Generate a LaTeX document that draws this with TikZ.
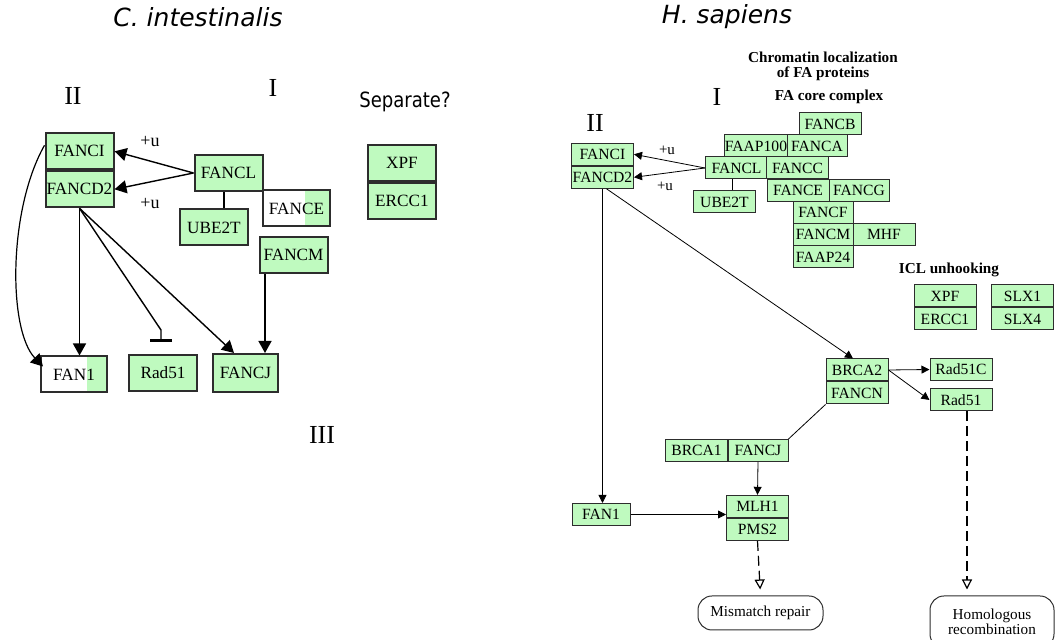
\documentclass[tikz,border=0pt]{standalone}
\usepackage{fontspec}
\setmainfont{Liberation Serif}
\newfontfamily\titlefont{DejaVu Sans}
\newfontfamily\narrowfont[FakeStretch=0.86]{DejaVu Sans}
\usetikzlibrary{positioning,arrows.meta,calc}
\definecolor{genegreen}{RGB}{191,250,191}
\definecolor{boxline}{RGB}{45,45,45}

\begin{document}
\begin{tikzpicture}[x=0.5pt, y=-0.5pt, >={Triangle[length=4pt,width=4pt]},
  lgene/.style={draw=boxline, line width=1pt, fill=genegreen, inner sep=0pt, font=\fontsize{8.6}{9}\selectfont, minimum width=34pt, minimum height=18pt},
  hgene/.style={draw=boxline, line width=0.5pt, fill=genegreen, inner sep=0pt, font=\fontsize{7.8}{8}\selectfont, minimum width=31pt, minimum height=11pt},
  partgreen/.style={fill=white, path picture={\fill[genegreen] ([xshift=-#1]path picture bounding box.north east) rectangle (path picture bounding box.south east);}},
  numeral/.style={font=\fontsize{13}{13}\selectfont},
  heading/.style={font=\bfseries\fontsize{7.6}{7.4}\selectfont, align=center},
  ulabel/.style={font=\fontsize{#1}{#1}\selectfont},
  big/.style={-{Triangle[length=6pt,width=6.5pt]}, line width=0.7pt},
  outcome/.style={draw=boxline, rounded corners=7pt, line width=0.5pt, align=center, font=\fontsize{7.6}{7.6}\selectfont},
  result/.style={dash pattern=on 5pt off 2.5pt, -{Triangle[open,length=5pt,width=5pt]}, line width=0.6pt, shorten >=3pt}]
  \useasboundingbox (0,0) rectangle (1057,640);

  % C. intestinalis
  \node[font=\titlefont\itshape\fontsize{12.5}{13}\selectfont] (ctitle) at (198,17) {C. intestinalis};
  \node[numeral] (cII) at (73,96) {II};
  \node[numeral] (cI) at (273,88) {I};
  \node[numeral] (cIII) at (322,435) {III};
  \node[font=\narrowfont\fontsize{10.5}{10.5}\selectfont] (csep) at (405,102) {Separate?};
  \node[lgene] (cFANCI) at (79.5,151.3) {FANCI};
  \node[lgene, below=0pt of cFANCI] (cFANCD2) {FANCD2};
  \node[lgene] (cFANCL) at (228.5,173) {FANCL};
  \node[lgene] (cUBE2T) at (214,227.5) {UBE2T};
  \node[lgene, partgreen=12.5pt, minimum width=33.5pt] (cFANCE) at (296.5,208.5) {FANCE};
  \node[lgene] (cFANCM) at (293.5,255) {FANCM};
  \node[lgene] (cXPF) at (402,163) {XPF};
  \node[lgene, below=0pt of cXPF] (cERCC1) {ERCC1};
  \node[lgene, partgreen=10pt, minimum width=33pt] (cFAN1) at (74,374.5) {FAN1};
  \node[lgene] (cRad51) at (163,373) {Rad51};
  \node[lgene, minimum width=32.5pt, minimum height=19pt] (cFANCJ) at (245.5,373) {FANCJ};
  \node[ulabel=9] (cu1) at (150,142) {+u};
  \node[ulabel=9] (cu2) at (150,204) {+u};
  \coordinate (cbend) at (161,330);
  \coordinate (cJin1) at ($(cFANCJ.north west)+(22,0)$);
  \coordinate (cJin2) at ($(cFANCJ.north east)+(-14,0)$);
  \draw[big] (cFANCL.west) -- (cFANCI.east);
  \draw[big] (cFANCL.west) -- (cFANCD2.east);
  \draw[line width=0.7pt] ([xshift=5pt]cUBE2T.north) -- ([xshift=5pt]cUBE2T.north |- cFANCL.south);
  \draw[big] (cFANCD2.south) -- (cFANCD2.south |- cFAN1.north);
  \draw[line width=0.7pt, -{Bar[width=11pt,line width=1.6pt]}] (cFANCD2.south) -- (cbend) -- ([yshift=6pt]cbend |- cRad51.north);
  \draw[big] (cFANCD2.south) -- (cJin1);
  \draw[big] (cJin2 |- cFANCM.south) -- (cJin2);
  \draw[big, line width=0.6pt] ([yshift=3pt]cFANCI.west) .. controls (8,210) and (8,330) .. ([xshift=1.5pt,yshift=4pt]cFAN1.west);

  % H. sapiens
  \node[font=\titlefont\itshape\fontsize{12.5}{13}\selectfont] (htitle) at (727,17) {H. sapiens};
  \node[heading] (hchrom) at (823,66) {Chromatin localization\\of FA proteins};
  \node[numeral] (hI) at (717,97) {I};
  \node[numeral] (hII) at (595,123) {II};
  \node[heading] (hcore) at (829,97) {FA core complex};
  \node[heading] (hicl) at (949,270) {ICL unhooking};
  \node[hgene] (hFANCI) at (602.5,154.3) {FANCI};
  \node[hgene, below=0pt of hFANCI] (hFANCD2) {FANCD2};
  \node[hgene] (hFANCB) at (830,124) {FANCB};
  \node[hgene] (hFAAP100) at (756,146) {FAAP100};
  \node[hgene, minimum width=30pt] (hFANCA) at (817,146) {FANCA};
  \node[hgene] (hFANCL) at (736.5,168) {FANCL};
  \node[hgene] (hFANCC) at (797.5,168) {FANCC};
  \node[hgene] (hUBE2T) at (724.5,202) {UBE2T};
  \node[hgene] (hFANCE) at (798,190.5) {FANCE};
  \node[hgene, minimum width=30pt] (hFANCG) at (859,190.5) {FANCG};
  \node[hgene, minimum width=30pt] (hFANCF) at (823,212.5) {FANCF};
  \node[hgene, minimum width=30pt] (hFANCM) at (823,234.5) {FANCM};
  \node[hgene] (hMHF) at (884,234.5) {MHF};
  \node[hgene, minimum width=30pt] (hFAAP24) at (823,257) {FAAP24};
  \node[hgene] (hXPF) at (945,296) {XPF};
  \node[hgene, below=0pt of hXPF] (hERCC1) {ERCC1};
  \node[hgene] (hSLX1) at (1022.5,296) {SLX1};
  \node[hgene, below=0pt of hSLX1] (hSLX4) {SLX4};
  \node[hgene] (hBRCA2) at (857,370) {BRCA2};
  \node[hgene, below=0pt of hBRCA2] (hFANCN) {FANCN};
  \node[hgene] (hRad51C) at (961,369.5) {Rad51C};
  \node[hgene] (hRad51) at (961,400) {Rad51};
  \node[hgene] (hBRCA1) at (696.5,450.5) {BRCA1};
  \node[hgene, minimum width=30pt] (hFANCJ) at (758,450.5) {FANCJ};
  \node[hgene] (hMLH1) at (757.5,506.3) {MLH1};
  \node[hgene, below=0pt of hMLH1] (hPMS2) {PMS2};
  \node[hgene, minimum width=29pt] (hFAN1) at (601,514.5) {FAN1};
  \node[outcome, minimum width=62.5pt, minimum height=17pt] (hMMR) at (760.5,613) {Mismatch repair};
  \node[outcome, minimum width=62pt, minimum height=26pt] (hHR) at (992,622) {Homologous\\recombination};
  \node[ulabel=7.5] (hu1) at (667,150) {+u};
  \node[ulabel=7.5] (hu2) at (665,186) {+u};
  \draw[->] (hFANCL.west) -- (hFANCI.east);
  \draw[->] (hFANCL.west) -- (hFANCD2.east);
  \draw ([xshift=4pt]hUBE2T.north) -- ([xshift=4pt]hUBE2T.north |- hFANCL.south);
  \draw[->] (hFANCD2.south) -- (hFANCD2.south |- hFAN1.north);
  \draw[->] ([xshift=2pt]hFANCD2.south) -- ([xshift=-2pt]hBRCA2.north);
  \draw[->] (hBRCA2.east) -- (hRad51C.west);
  \draw[->] (hBRCA2.east) -- (hRad51.west);
  \draw (hFANCN.south west) -- (hFANCJ.north east);
  \draw[->] (hFANCJ.south) -- (hMLH1.north);
  \draw[->] (hFAN1.east) -- (hFAN1.east -| hMLH1.west);
  \draw[result] (hPMS2.south) -- (hMMR.north);
  \draw[result] ([xshift=3pt]hRad51.south) -- ([xshift=3pt]hRad51.south |- hHR.north);
\end{tikzpicture}
\end{document}
